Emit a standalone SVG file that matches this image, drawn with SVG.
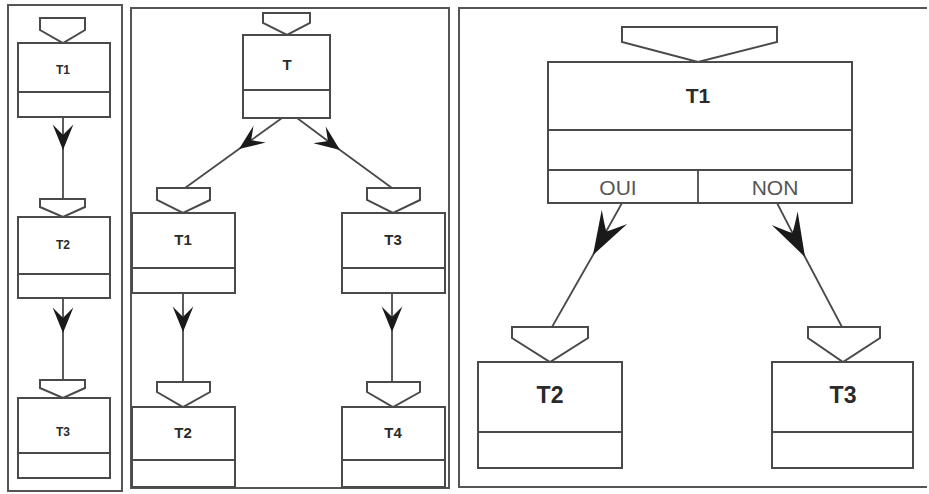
<svg xmlns="http://www.w3.org/2000/svg" width="929" height="494" viewBox="0 0 929 494">
<defs>
<style>
.frame{fill:none;stroke:#555;stroke-width:2}
.box{fill:#fff;stroke:#4a4a4a;stroke-width:2}
.ln{fill:none;stroke:#4a4a4a;stroke-width:1.8}
.lbl{font-family:"Liberation Sans",Arial,sans-serif;font-weight:bold;fill:#2a2a2a;text-anchor:middle}
.opt{font-family:"Liberation Sans",Arial,sans-serif;fill:#555;text-anchor:middle;font-size:21px}
</style>
<marker id="ah" markerUnits="userSpaceOnUse" markerWidth="30" markerHeight="30" viewBox="-24 -12 26 24" refX="0" refY="0" orient="auto">
<path d="M0,0 L-22,-9 Q-16,-3 -13,0 Q-16,3 -22,9 Z" fill="#1a1a1a"/>
</marker>
<marker id="ahL" markerUnits="userSpaceOnUse" markerWidth="50" markerHeight="50" viewBox="-46 -18 48 36" refX="0" refY="0" orient="auto">
<path d="M0,0 L-42,-14 Q-31,-5 -26,0 Q-31,5 -42,14 Z" fill="#1a1a1a"/>
</marker>
</defs>
<rect width="929" height="494" fill="#fff"/>
<g id="frames">
<rect class="frame" x="8" y="5" width="114" height="486"/>
<rect class="frame" x="131" y="8" width="318" height="480"/>
<path class="frame" d="M927,8 H459 V487 H927"/>
</g>
<g id="connectors">
<path class="ln" d="M63,117 L63,150 L63,199" marker-mid="url(#ah)"/>
<path class="ln" d="M63,298 L63,333 L63,380" marker-mid="url(#ah)"/>
<path class="ln" d="M282,118 L239,149 L185,188" marker-mid="url(#ah)"/>
<path class="ln" d="M297,118 L340,150 L392,188" marker-mid="url(#ah)"/>
<path class="ln" d="M183,293 L183,332 L183,382" marker-mid="url(#ah)"/>
<path class="ln" d="M392,293 L392,332 L392,382" marker-mid="url(#ah)"/>
<path class="ln" d="M622,203 L593,255 L552,327" marker-mid="url(#ahL)"/>
<path class="ln" d="M777,203 L805,257 L842,327" marker-mid="url(#ahL)"/>
</g>
<g id="p1-T1">
<path class="box" d="M40,18 H85 V30 L63,43 L40,30 Z"/>
<rect class="box" x="18" y="43" width="92" height="74"/>
<line class="ln" x1="18" y1="92" x2="110" y2="92"/>
<text class="lbl" x="63" y="74" font-size="12">T1</text>
</g>
<g id="p1-T2">
<path class="box" d="M40,199 H85 V207 L63,217 L40,207 Z"/>
<rect class="box" x="18" y="217" width="92" height="81"/>
<line class="ln" x1="18" y1="274" x2="110" y2="274"/>
<text class="lbl" x="63" y="249" font-size="12">T2</text>
</g>
<g id="p1-T3">
<path class="box" d="M40,380 H85 V388 L63,398 L40,388 Z"/>
<rect class="box" x="18" y="398" width="92" height="80"/>
<line class="ln" x1="18" y1="453" x2="110" y2="453"/>
<text class="lbl" x="63" y="436" font-size="12">T3</text>
</g>
<g id="p2-T">
<path class="box" d="M263,13 H310 V23 L287,35 L263,23 Z"/>
<rect class="box" x="243" y="35" width="87" height="83"/>
<line class="ln" x1="243" y1="90" x2="330" y2="90"/>
<text class="lbl" x="287" y="70" font-size="15">T</text>
</g>
<g id="p2-T1">
<path class="box" d="M157,188 H210 V200 L183,213 L157,200 Z"/>
<rect class="box" x="132" y="213" width="103" height="80"/>
<line class="ln" x1="132" y1="268" x2="235" y2="268"/>
<text class="lbl" x="183" y="245" font-size="15">T1</text>
</g>
<g id="p2-T3">
<path class="box" d="M367,188 H420 V200 L393,213 L367,200 Z"/>
<rect class="box" x="342" y="213" width="103" height="80"/>
<line class="ln" x1="342" y1="268" x2="445" y2="268"/>
<text class="lbl" x="393" y="245" font-size="15">T3</text>
</g>
<g id="p2-T2">
<path class="box" d="M157,382 H210 V392 L183,407 L157,392 Z"/>
<rect class="box" x="132" y="407" width="103" height="80"/>
<line class="ln" x1="132" y1="460" x2="235" y2="460"/>
<text class="lbl" x="183" y="438" font-size="15">T2</text>
</g>
<g id="p2-T4">
<path class="box" d="M367,382 H420 V392 L393,407 L367,392 Z"/>
<rect class="box" x="342" y="407" width="103" height="80"/>
<line class="ln" x1="342" y1="460" x2="445" y2="460"/>
<text class="lbl" x="393" y="438" font-size="15">T4</text>
</g>
<g id="p3-T1">
<path class="box" d="M622,27 H777 V42 L698,62 L622,42 Z"/>
<rect class="box" x="548" y="62" width="304" height="141"/>
<line class="ln" x1="548" y1="130" x2="852" y2="130"/>
<line class="ln" x1="548" y1="170" x2="852" y2="170"/>
<line class="ln" x1="698" y1="170" x2="698" y2="203"/>
<text class="lbl" x="698" y="103" font-size="21">T1</text>
<text class="opt" x="618" y="195">OUI</text>
<text class="opt" x="775" y="195">NON</text>
</g>
<g id="p3-T2">
<path class="box" d="M512,327 H588 V338 L550,362 L512,338 Z"/>
<rect class="box" x="478" y="362" width="144" height="106"/>
<line class="ln" x1="478" y1="432" x2="622" y2="432"/>
<text class="lbl" x="550" y="403" font-size="23">T2</text>
</g>
<g id="p3-T3">
<path class="box" d="M808,327 H880 V338 L843,362 L808,338 Z"/>
<rect class="box" x="772" y="362" width="141" height="106"/>
<line class="ln" x1="772" y1="432" x2="913" y2="432"/>
<text class="lbl" x="843" y="403" font-size="23">T3</text>
</g>
</svg>
